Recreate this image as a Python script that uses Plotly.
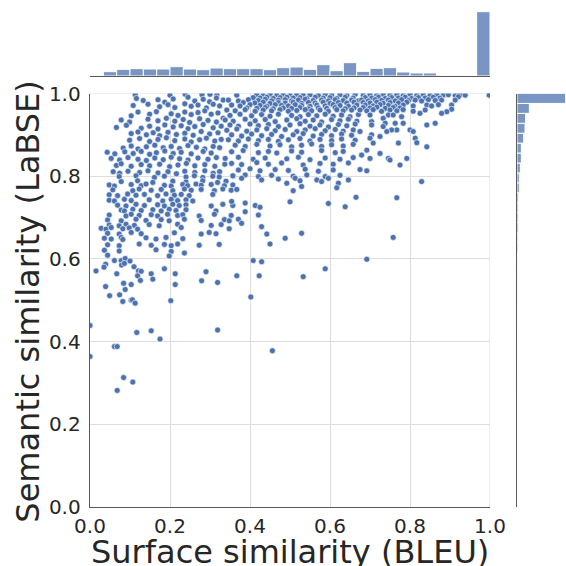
import plotly.graph_objects as go

# ---------------- scatter data (BLEU, LaBSE) ----------------
upper_left = [
    (0.113, 0.997), (0.200, 0.996), (0.238, 0.998), (0.280, 0.997), (0.300, 0.998), (0.317, 0.996),
    (0.116, 0.988), (0.133, 0.983), (0.170, 0.985), (0.187, 0.979), (0.208, 0.987), (0.245, 0.991), (0.262, 0.982), (0.283, 0.986), (0.299, 0.980), (0.316, 0.989), (0.333, 0.984),
    (0.108, 0.971), (0.145, 0.974), (0.174, 0.968), (0.195, 0.973), (0.212, 0.966), (0.237, 0.975), (0.253, 0.969), (0.270, 0.972), (0.291, 0.965), (0.308, 0.974), (0.324, 0.970),
    (0.103, 0.946), (0.120, 0.955), (0.149, 0.950), (0.166, 0.956), (0.203, 0.951), (0.220, 0.947), (0.237, 0.955), (0.253, 0.949), (0.270, 0.954), (0.287, 0.958), (0.303, 0.950), (0.320, 0.953),
    (0.078, 0.936), (0.099, 0.931), (0.145, 0.938), (0.170, 0.934), (0.191, 0.940), (0.212, 0.933), (0.233, 0.937), (0.249, 0.930), (0.274, 0.939), (0.295, 0.935), (0.316, 0.931), (0.333, 0.940),
    (0.066, 0.918), (0.091, 0.923), (0.128, 0.916), (0.149, 0.921), (0.170, 0.914), (0.187, 0.924), (0.208, 0.919), (0.228, 0.922), (0.245, 0.915), (0.262, 0.920), (0.283, 0.925), (0.308, 0.917), (0.328, 0.921),
    (0.103, 0.903), (0.120, 0.907), (0.141, 0.900), (0.158, 0.905), (0.174, 0.898), (0.195, 0.906), (0.216, 0.901), (0.237, 0.904), (0.258, 0.899), (0.278, 0.908), (0.299, 0.902), (0.320, 0.905),
    (0.099, 0.887), (0.124, 0.891), (0.149, 0.884), (0.170, 0.889), (0.191, 0.893), (0.212, 0.886), (0.237, 0.890), (0.253, 0.883), (0.274, 0.888), (0.291, 0.892), (0.312, 0.885), (0.328, 0.889),
    (0.083, 0.868), (0.103, 0.873), (0.120, 0.866), (0.141, 0.871), (0.162, 0.875), (0.183, 0.869), (0.203, 0.872), (0.224, 0.867), (0.245, 0.874), (0.266, 0.870), (0.287, 0.866), (0.308, 0.872), (0.324, 0.869),
    (0.043, 0.858), (0.062, 0.854), (0.087, 0.859), (0.108, 0.855), (0.128, 0.860), (0.149, 0.853), (0.166, 0.857), (0.187, 0.861), (0.208, 0.855), (0.228, 0.858), (0.253, 0.854), (0.283, 0.860), (0.303, 0.856),
    (0.053, 0.843), (0.074, 0.839), (0.095, 0.845), (0.120, 0.841), (0.141, 0.838), (0.162, 0.844), (0.183, 0.840), (0.203, 0.846), (0.224, 0.842), (0.245, 0.839), (0.270, 0.844), (0.295, 0.841), (0.316, 0.845),
    (0.066, 0.826), (0.078, 0.830), (0.103, 0.824), (0.128, 0.828), (0.149, 0.825), (0.174, 0.829), (0.199, 0.823), (0.220, 0.827), (0.241, 0.831), (0.262, 0.825), (0.287, 0.828), (0.312, 0.824), (0.337, 0.829),
    (0.058, 0.811), (0.074, 0.807), (0.095, 0.812), (0.124, 0.809), (0.145, 0.813), (0.170, 0.808), (0.195, 0.811), (0.216, 0.806), (0.237, 0.812), (0.262, 0.809), (0.287, 0.813), (0.308, 0.807), (0.324, 0.811),
]

upper_mid = [
    (0.367, 0.996), (0.417, 0.997), (0.433, 0.995), (0.450, 0.998), (0.467, 0.996), (0.483, 0.997), (0.500, 0.995), (0.517, 0.998), (0.533, 0.996), (0.550, 0.997), (0.571, 0.995), (0.588, 0.998), (0.604, 0.996), (0.625, 0.997), (0.642, 0.995), (0.663, 0.998),
    (0.408, 0.990), (0.425, 0.989), (0.442, 0.991), (0.458, 0.988), (0.475, 0.990), (0.492, 0.991), (0.508, 0.989), (0.525, 0.990), (0.542, 0.988), (0.563, 0.991), (0.583, 0.989), (0.600, 0.990), (0.617, 0.988), (0.638, 0.991), (0.658, 0.989),
    (0.346, 0.984), (0.371, 0.982), (0.396, 0.985), (0.421, 0.983), (0.438, 0.986), (0.454, 0.982), (0.471, 0.984), (0.488, 0.985), (0.504, 0.982), (0.521, 0.984), (0.538, 0.986), (0.558, 0.983), (0.579, 0.984), (0.596, 0.982), (0.613, 0.985), (0.633, 0.983), (0.654, 0.984), (0.671, 0.982),
    (0.383, 0.978), (0.412, 0.977), (0.433, 0.979), (0.450, 0.976), (0.471, 0.978), (0.488, 0.977), (0.508, 0.979), (0.529, 0.976), (0.546, 0.978), (0.563, 0.977), (0.583, 0.979), (0.600, 0.976), (0.621, 0.978), (0.642, 0.977), (0.660, 0.979),
    (0.354, 0.972), (0.375, 0.970), (0.400, 0.973), (0.425, 0.971), (0.442, 0.969), (0.463, 0.973), (0.479, 0.971), (0.496, 0.970), (0.513, 0.973), (0.529, 0.971), (0.550, 0.969), (0.567, 0.972), (0.588, 0.970), (0.608, 0.973), (0.625, 0.971), (0.646, 0.969), (0.667, 0.972),
    (0.392, 0.965), (0.417, 0.964), (0.438, 0.966), (0.458, 0.963), (0.483, 0.965), (0.504, 0.964), (0.525, 0.966), (0.546, 0.963), (0.571, 0.965), (0.592, 0.964), (0.613, 0.966), (0.638, 0.963), (0.660, 0.965),
    (0.342, 0.960), (0.363, 0.958), (0.388, 0.961), (0.413, 0.957), (0.433, 0.960), (0.454, 0.958), (0.475, 0.961), (0.496, 0.957), (0.517, 0.959), (0.538, 0.961), (0.554, 0.958), (0.575, 0.960), (0.596, 0.957), (0.617, 0.961), (0.633, 0.958), (0.654, 0.960),
    (0.350, 0.947), (0.375, 0.950), (0.404, 0.946), (0.429, 0.949), (0.450, 0.945), (0.471, 0.950), (0.504, 0.947), (0.525, 0.944), (0.546, 0.949), (0.567, 0.946), (0.588, 0.950), (0.608, 0.945), (0.629, 0.948), (0.650, 0.944), (0.671, 0.949),
    (0.338, 0.936), (0.358, 0.933), (0.388, 0.938), (0.413, 0.934), (0.438, 0.937), (0.463, 0.932), (0.492, 0.936), (0.517, 0.939), (0.538, 0.933), (0.558, 0.936), (0.579, 0.931), (0.604, 0.937), (0.625, 0.934), (0.646, 0.938), (0.667, 0.933),
    (0.350, 0.924), (0.371, 0.921), (0.400, 0.926), (0.421, 0.922), (0.446, 0.925), (0.471, 0.920), (0.500, 0.924), (0.525, 0.927), (0.550, 0.921), (0.575, 0.924), (0.596, 0.919), (0.621, 0.925), (0.642, 0.922), (0.663, 0.926),
    (0.342, 0.911), (0.367, 0.914), (0.392, 0.909), (0.417, 0.912), (0.442, 0.915), (0.463, 0.910), (0.488, 0.913), (0.517, 0.908), (0.538, 0.912), (0.563, 0.915), (0.588, 0.910), (0.613, 0.913), (0.633, 0.909), (0.658, 0.912),
    (0.354, 0.900), (0.379, 0.897), (0.404, 0.902), (0.429, 0.898), (0.454, 0.901), (0.479, 0.896), (0.508, 0.900), (0.533, 0.903), (0.558, 0.897), (0.579, 0.901), (0.604, 0.898), (0.629, 0.902), (0.654, 0.899),
    (0.346, 0.888), (0.371, 0.885), (0.396, 0.890), (0.421, 0.886), (0.446, 0.889), (0.471, 0.884), (0.496, 0.888), (0.525, 0.891), (0.550, 0.885), (0.575, 0.889), (0.604, 0.886), (0.629, 0.890), (0.663, 0.887),
    (0.363, 0.875), (0.388, 0.872), (0.417, 0.877), (0.450, 0.873), (0.475, 0.876), (0.504, 0.871), (0.529, 0.875), (0.554, 0.878), (0.579, 0.872), (0.604, 0.876), (0.633, 0.873), (0.658, 0.877),
    (0.354, 0.859), (0.383, 0.862), (0.421, 0.857), (0.446, 0.860), (0.467, 0.856), (0.504, 0.861), (0.529, 0.858), (0.579, 0.862), (0.613, 0.857), (0.633, 0.860),
    (0.338, 0.843), (0.371, 0.846), (0.408, 0.841), (0.438, 0.844), (0.492, 0.842), (0.521, 0.846), (0.550, 0.840), (0.588, 0.844), (0.625, 0.841), (0.658, 0.845),
    (0.354, 0.831), (0.379, 0.828), (0.417, 0.833), (0.446, 0.829), (0.479, 0.832), (0.533, 0.827), (0.575, 0.831), (0.608, 0.829), (0.646, 0.832),
    (0.371, 0.815), (0.400, 0.818), (0.425, 0.813), (0.463, 0.816), (0.496, 0.814), (0.538, 0.817), (0.571, 0.812), (0.608, 0.815), (0.675, 0.816),
    (0.358, 0.800), (0.388, 0.803), (0.421, 0.799), (0.454, 0.802), (0.508, 0.800), (0.542, 0.803), (0.588, 0.799), (0.625, 0.802),
]

upper_right = [
    (0.683, 0.996), (0.700, 0.997), (0.717, 0.995), (0.733, 0.998), (0.750, 0.996), (0.767, 0.997), (0.783, 0.995), (0.800, 0.998), (0.817, 0.996), (0.833, 0.997), (0.850, 0.995), (0.867, 0.998), (0.883, 0.996), (0.896, 0.997), (0.913, 0.995), (0.925, 0.997), (0.938, 0.996),
    (0.688, 0.990), (0.704, 0.989), (0.721, 0.991), (0.738, 0.988), (0.754, 0.990), (0.771, 0.989), (0.788, 0.991), (0.804, 0.988), (0.821, 0.990), (0.838, 0.989), (0.858, 0.991), (0.875, 0.989), (0.921, 0.992),
    (0.679, 0.984), (0.696, 0.982), (0.713, 0.985), (0.729, 0.983), (0.746, 0.984), (0.763, 0.982), (0.779, 0.985), (0.796, 0.983), (0.813, 0.984), (0.829, 0.982), (0.846, 0.985), (0.863, 0.983), (0.879, 0.984), (0.913, 0.984),
    (0.683, 0.978), (0.700, 0.977), (0.717, 0.979), (0.733, 0.976), (0.750, 0.978), (0.771, 0.977), (0.792, 0.979),
    (0.688, 0.972), (0.708, 0.970), (0.725, 0.973), (0.746, 0.971), (0.763, 0.969), (0.783, 0.972), (0.808, 0.970), (0.842, 0.972), (0.854, 0.970), (0.871, 0.973), (0.904, 0.972),
    (0.683, 0.966), (0.700, 0.965), (0.717, 0.967), (0.738, 0.964), (0.758, 0.966), (0.775, 0.965),
    (0.675, 0.960), (0.692, 0.958), (0.708, 0.961), (0.729, 0.957), (0.750, 0.960), (0.767, 0.958), (0.783, 0.961), (0.808, 0.957), (0.838, 0.960), (0.904, 0.962), (0.892, 0.956),
    (0.700, 0.948), (0.746, 0.948), (0.758, 0.948), (0.779, 0.944), (0.825, 0.952), (0.879, 0.952), (0.733, 0.940),
    (0.704, 0.932), (0.704, 0.924), (0.738, 0.928), (0.733, 0.920), (0.763, 0.928), (0.783, 0.928), (0.842, 0.924), (0.863, 0.928),
    (0.767, 0.912), (0.754, 0.912), (0.742, 0.908), (0.800, 0.912), (0.808, 0.908), (0.675, 0.908), (0.725, 0.896), (0.704, 0.900),
    (0.700, 0.892), (0.813, 0.892), (0.708, 0.880), (0.771, 0.880), (0.817, 0.881), (0.842, 0.871), (0.692, 0.863),
    (0.679, 0.851), (0.725, 0.855), (0.700, 0.843), (0.746, 0.843), (0.750, 0.839), (0.792, 0.843), (0.775, 0.827), (0.692, 0.813),
    (1.000, 1.000), (0.998, 0.996),
]

middle_left = [
    (0.073, 0.799), (0.115, 0.801), (0.161, 0.797), (0.186, 0.800), (0.240, 0.798), (0.261, 0.801), (0.282, 0.797), (0.307, 0.800), (0.323, 0.798), (0.357, 0.801),
    (0.078, 0.787), (0.119, 0.789), (0.157, 0.785), (0.207, 0.788), (0.240, 0.786), (0.282, 0.789), (0.319, 0.785), (0.340, 0.788),
    (0.048, 0.779), (0.061, 0.776), (0.103, 0.780), (0.128, 0.777), (0.140, 0.781), (0.186, 0.778), (0.203, 0.776), (0.232, 0.780), (0.244, 0.777), (0.265, 0.781), (0.278, 0.778), (0.303, 0.780), (0.336, 0.777), (0.357, 0.779),
    (0.057, 0.767), (0.107, 0.765), (0.123, 0.769), (0.153, 0.766), (0.178, 0.768), (0.207, 0.765), (0.236, 0.769), (0.253, 0.766), (0.278, 0.768), (0.311, 0.765), (0.332, 0.769), (0.353, 0.766),
    (0.048, 0.755), (0.069, 0.753), (0.094, 0.757), (0.115, 0.754), (0.136, 0.756), (0.169, 0.753), (0.190, 0.757), (0.211, 0.754), (0.228, 0.756), (0.248, 0.753), (0.307, 0.756),
    (0.048, 0.742), (0.061, 0.740), (0.086, 0.744), (0.103, 0.741), (0.148, 0.743), (0.182, 0.740), (0.203, 0.744), (0.219, 0.741), (0.240, 0.743), (0.257, 0.740),
    (0.069, 0.730), (0.090, 0.728), (0.115, 0.732), (0.136, 0.729), (0.169, 0.731), (0.186, 0.728), (0.207, 0.732), (0.223, 0.729), (0.240, 0.731), (0.303, 0.728), (0.332, 0.732), (0.357, 0.729),
    (0.078, 0.718), (0.086, 0.716), (0.107, 0.720), (0.128, 0.717), (0.157, 0.719), (0.178, 0.716), (0.198, 0.720), (0.215, 0.717), (0.240, 0.719), (0.315, 0.716),
    (0.048, 0.706), (0.090, 0.704), (0.103, 0.708), (0.123, 0.705), (0.153, 0.707), (0.169, 0.704), (0.194, 0.708), (0.219, 0.705), (0.232, 0.707), (0.273, 0.704), (0.311, 0.708), (0.353, 0.705),
    (0.044, 0.694), (0.078, 0.692), (0.115, 0.696), (0.140, 0.693), (0.178, 0.695), (0.198, 0.692), (0.236, 0.696), (0.278, 0.693), (0.336, 0.695), (0.348, 0.692),
    (0.048, 0.682), (0.073, 0.680), (0.090, 0.684), (0.111, 0.681), (0.148, 0.683), (0.173, 0.680), (0.219, 0.684), (0.303, 0.681), (0.328, 0.683),
    (0.028, 0.674), (0.040, 0.672), (0.053, 0.676), (0.082, 0.673), (0.098, 0.675), (0.119, 0.672), (0.228, 0.676), (0.348, 0.673),
    (0.044, 0.662), (0.073, 0.660), (0.103, 0.664), (0.128, 0.661), (0.211, 0.663), (0.278, 0.660), (0.298, 0.664), (0.315, 0.661),
    (0.036, 0.650), (0.053, 0.648), (0.078, 0.652), (0.082, 0.647), (0.140, 0.651), (0.165, 0.648), (0.190, 0.652), (0.232, 0.649),
    (0.044, 0.634), (0.073, 0.632), (0.123, 0.636), (0.153, 0.633), (0.186, 0.635), (0.203, 0.632), (0.219, 0.636), (0.273, 0.633), (0.323, 0.635),
    (0.036, 0.621), (0.073, 0.619), (0.165, 0.622), (0.236, 0.614), (0.203, 0.618),
    (0.044, 0.609), (0.198, 0.607),
]

middle_right = [
    (0.379, 0.795), (0.429, 0.791), (0.471, 0.793), (0.492, 0.783), (0.367, 0.768), (0.354, 0.739),
    (0.388, 0.735), (0.413, 0.729), (0.425, 0.725), (0.388, 0.714), (0.421, 0.706), (0.371, 0.696),
    (0.379, 0.686), (0.429, 0.678), (0.442, 0.660), (0.450, 0.636),
    (0.513, 0.795), (0.525, 0.789), (0.529, 0.775), (0.508, 0.765), (0.500, 0.738), (0.567, 0.791),
    (0.579, 0.787), (0.596, 0.795), (0.621, 0.783), (0.617, 0.772), (0.646, 0.791), (0.665, 0.749),
    (0.596, 0.734), (0.638, 0.726), (0.767, 0.748), (0.829, 0.787), (0.529, 0.662), (0.488, 0.650),
    (0.758, 0.652),
]

lower = [
    (0.061, 0.596), (0.078, 0.596), (0.088, 0.601), (0.100, 0.595), (0.039, 0.587), (0.079, 0.585),
    (0.086, 0.589), (0.035, 0.580), (0.015, 0.571), (0.067, 0.564), (0.110, 0.581), (0.121, 0.571),
    (0.128, 0.570), (0.119, 0.559), (0.153, 0.564), (0.126, 0.548), (0.157, 0.551), (0.186, 0.576),
    (0.213, 0.564), (0.213, 0.538), (0.202, 0.499), (0.290, 0.569), (0.279, 0.547), (0.319, 0.543),
    (0.367, 0.559), (0.408, 0.596), (0.429, 0.593), (0.423, 0.559), (0.402, 0.508), (0.533, 0.557),
    (0.588, 0.576), (0.692, 0.599), (0.039, 0.533), (0.084, 0.541), (0.103, 0.538), (0.088, 0.526),
    (0.049, 0.511), (0.074, 0.513), (0.082, 0.497), (0.103, 0.500), (0.106, 0.501), (0.113, 0.493),
    (0.000, 0.439), (0.117, 0.422), (0.153, 0.426), (0.175, 0.406), (0.319, 0.428), (0.061, 0.388),
    (0.068, 0.388), (0.000, 0.364), (0.456, 0.378), (0.084, 0.313), (0.107, 0.302), (0.068, 0.282),
]

# ---------------- marginal histograms (30 bins each) ----------------
bleu_bin_start = 0.0
bleu_bin_width = 1.0 / 30
bleu_counts = [2, 13, 20, 22, 21, 21, 28, 21, 19, 24, 22, 22, 22, 19, 25,
               27, 20, 34, 16, 40, 14, 23, 25, 12, 9, 9, 2, 2, 0, 193]

labse_bin_start = 0.28
labse_bin_width = 0.024
labse_counts = [1, 1, 0, 1, 1, 0, 1, 1, 1, 2, 2, 2, 2, 2, 3,
                3, 4, 4, 4, 5, 7, 7, 10, 13, 13, 20, 24, 26, 37, 146]

tick_vals = [0.0, 0.2, 0.4, 0.6, 0.8, 1.0]

x_title = "Surface similarity (BLEU)"
y_title = "Semantic similarity (LaBSE)"

# ---------------- build figure ----------------
points = upper_left + upper_mid + upper_right + middle_left + middle_right + lower
xs = [p[0] for p in points]
ys = [p[1] for p in points]

bleu_centers = [bleu_bin_start + (i + 0.5) * bleu_bin_width for i in range(len(bleu_counts))]
labse_centers = [labse_bin_start + (i + 0.5) * labse_bin_width for i in range(len(labse_counts))]

S = 566.0
main_x_dom = [90 / S, 490 / S]
main_y_dom = [59 / S, 472.5 / S]
top_y_dom = [490 / S, 556 / S]
right_x_dom = [517 / S, 1.0]

BLUE = "#4C72B0"
HIST = "rgba(76,114,176,0.75)"
SPINE = "#5a5a5a"
GRID = "#dddddd"
TXT = "#262626"
FONT = "DejaVu Sans"

fig = go.Figure()
fig.add_trace(go.Scatter(
    x=xs, y=ys, mode="markers", xaxis="x", yaxis="y", cliponaxis=True,
    marker=dict(color=BLUE, size=6, line=dict(color="white", width=0.6)),
    hoverinfo="skip"))
fig.add_trace(go.Bar(
    x=bleu_centers, y=bleu_counts, width=bleu_bin_width, xaxis="x2", yaxis="y2",
    marker=dict(color=HIST, line=dict(color="white", width=1)), hoverinfo="skip"))
fig.add_trace(go.Bar(
    y=labse_centers, x=labse_counts, width=labse_bin_width, orientation="h",
    xaxis="x3", yaxis="y3",
    marker=dict(color=HIST, line=dict(color="white", width=1)), hoverinfo="skip"))

tickfont = dict(family=FONT, size=20, color=TXT)
fig.update_layout(
    width=566, height=566,
    margin=dict(l=0, r=0, t=0, b=0, pad=0, autoexpand=False),
    paper_bgcolor="white", plot_bgcolor="white", showlegend=False,
    bargap=0, font=dict(family=FONT, color=TXT),
    xaxis=dict(domain=main_x_dom, range=[0, 1], anchor="y", tickvals=tick_vals,
               tickformat=".1f", tickfont=tickfont, ticks="outside", ticklen=1,
               tickcolor="rgba(0,0,0,0)", showgrid=True, gridcolor=GRID,
               gridwidth=1, zeroline=False, showline=True, linecolor=SPINE,
               linewidth=1.3, automargin=False),
    yaxis=dict(domain=main_y_dom, range=[0, 1], anchor="x", tickvals=tick_vals,
               tickformat=".1f", tickfont=tickfont, ticks="outside", ticklen=4,
               tickcolor="rgba(0,0,0,0)", showgrid=True, gridcolor=GRID,
               gridwidth=1, zeroline=False, showline=True, linecolor=SPINE,
               linewidth=1.3, automargin=False),
    xaxis2=dict(domain=main_x_dom, range=[0, 1], anchor="y2", showticklabels=False,
                showgrid=False, zeroline=False, showline=True, linecolor=SPINE,
                linewidth=1.3, ticks="", automargin=False),
    yaxis2=dict(domain=top_y_dom, range=[0, 198], anchor="x2", showticklabels=False,
                showgrid=False, zeroline=False, showline=False, ticks="", automargin=False),
    xaxis3=dict(domain=right_x_dom, range=[0, 147], anchor="y3", showticklabels=False,
                showgrid=False, zeroline=False, showline=False, ticks="", automargin=False),
    yaxis3=dict(domain=main_y_dom, range=[0, 1], anchor="x3", showticklabels=False,
                showgrid=False, zeroline=False, showline=True, linecolor=SPINE,
                linewidth=1.3, ticks="", automargin=False),
    shapes=[
        dict(type="line", xref="x", yref="y", x0=1, x1=1, y0=0, y1=1,
             line=dict(color=GRID, width=1), layer="below"),
        dict(type="line", xref="x", yref="y", x0=0, x1=1, y0=1, y1=1,
             line=dict(color=GRID, width=1), layer="below"),
    ],
    annotations=[
        dict(text=x_title, x=290 / S, y=14 / S, xref="paper", yref="paper",
             xanchor="center", yanchor="middle", showarrow=False,
             font=dict(family=FONT, size=32, color=TXT)),
        dict(text=y_title, x=28 / S, y=0.467, xref="paper", yref="paper",
             xanchor="center", yanchor="middle", showarrow=False, textangle=-90,
             font=dict(family=FONT, size=32, color=TXT)),
    ],
)

fig.write_html(
    "out.html",
    config={"displayModeBar": False, "staticPlot": True},
    post_script="document.body.style.margin='0';document.body.style.padding='0';",
)
